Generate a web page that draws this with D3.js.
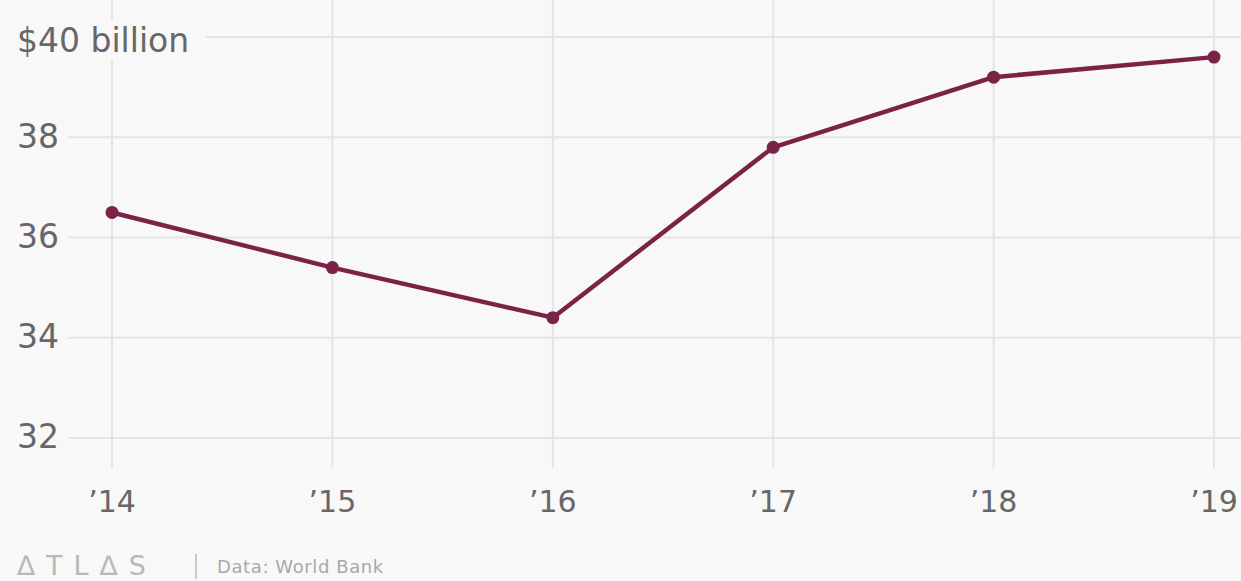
<!DOCTYPE html>
<html>
<head>
<meta charset="utf-8">
<script src="https://cdn.jsdelivr.net/npm/d3@7"></script>
<style>
  html, body { margin: 0; padding: 0; background: #f8f8f8; }
  svg { display: block; font-family: "DejaVu Sans", Roboto, sans-serif; }
</style>
</head>
<body>
<svg id="chart"></svg>
<script>
var years = ['14', '15', '16', '17', '18', '19'];
var spending = [36.5, 35.4, 34.4, 37.8, 39.2, 39.6];
var yTicks = [32, 34, 36, 38, 40];
var source = 'Data: World Bank';

var width = 1241;
var height = 581;
var lineColor = '#7b2346';

var svg = d3.select('#chart')
    .attr('width', width)
    .attr('height', height);

var x = d3.scalePoint()
    .domain(years)
    .range([112, 1214]);

var y = d3.scaleLinear()
    .domain([31.36, 40.74])
    .range([470, 0]);

// vertical grid
svg.append('g')
    .selectAll('line')
    .data(years)
    .enter()
    .append('line')
    .attr('x1', function (d) { return x(d); })
    .attr('x2', function (d) { return x(d); })
    .attr('y1', 0)
    .attr('y2', 468)
    .attr('stroke', '#e4e4e4')
    .attr('stroke-width', 2);

// horizontal grid
svg.append('g')
    .selectAll('line')
    .data(yTicks)
    .enter()
    .append('line')
    .attr('x1', 68)
    .attr('x2', width)
    .attr('y1', function (d) { return y(d); })
    .attr('y2', function (d) { return y(d); })
    .attr('stroke', '#e4e4e4')
    .attr('stroke-width', 2);

// y labels
var yLab = svg.append('g');
yTicks.forEach(function (d) {
    var label = d === 40 ? '$40 billion' : String(d);
    if (d === 40) {
        yLab.append('rect')
            .attr('x', 10)
            .attr('y', y(d) - 16)
            .attr('width', 196)
            .attr('height', 38)
            .attr('fill', '#f8f8f8');
    }
    yLab.append('text')
        .attr('x', 17)
        .attr('y', y(d) + (d === 40 ? 5 : 1))
        .attr('dominant-baseline', 'middle')
        .attr('font-size', 33)
        .attr('fill', '#676767')
        .text(label);
});

// x labels
svg.append('g')
    .selectAll('text')
    .data(years)
    .enter()
    .append('text')
    .attr('x', function (d) { return x(d); })
    .attr('y', 512)
    .attr('text-anchor', 'middle')
    .attr('font-size', 30)
    .attr('fill', '#676767')
    .text(function (d) { return '\u2019' + d; });

var line = d3.line()
    .x(function (d, i) { return x(years[i]); })
    .y(function (d) { return y(d); });

svg.append('path')
    .datum(spending)
    .attr('d', line)
    .attr('fill', 'none')
    .attr('stroke', lineColor)
    .attr('stroke-width', 4.5)
    .attr('stroke-linejoin', 'round');

svg.append('g')
    .selectAll('circle')
    .data(spending)
    .enter()
    .append('circle')
    .attr('cx', function (d, i) { return x(years[i]); })
    .attr('cy', function (d) { return y(d); })
    .attr('r', 6.5)
    .attr('fill', lineColor);

// footer
var foot = svg.append('g');
foot.append('text')
    .attr('x', 17)
    .attr('y', 575)
    .attr('font-size', 27)
    .attr('letter-spacing', 11)
    .attr('fill', '#b8b8b8')
    .text('\u2206TL\u2206S');
foot.append('line')
    .attr('x1', 196)
    .attr('x2', 196)
    .attr('y1', 554)
    .attr('y2', 579)
    .attr('stroke', '#c8c8c8')
    .attr('stroke-width', 2);
foot.append('text')
    .attr('x', 217)
    .attr('y', 573)
    .attr('font-size', 18)
    .attr('letter-spacing', 0.6)
    .attr('fill', '#a8a8a8')
    .text(source);
</script>
</body>
</html>
